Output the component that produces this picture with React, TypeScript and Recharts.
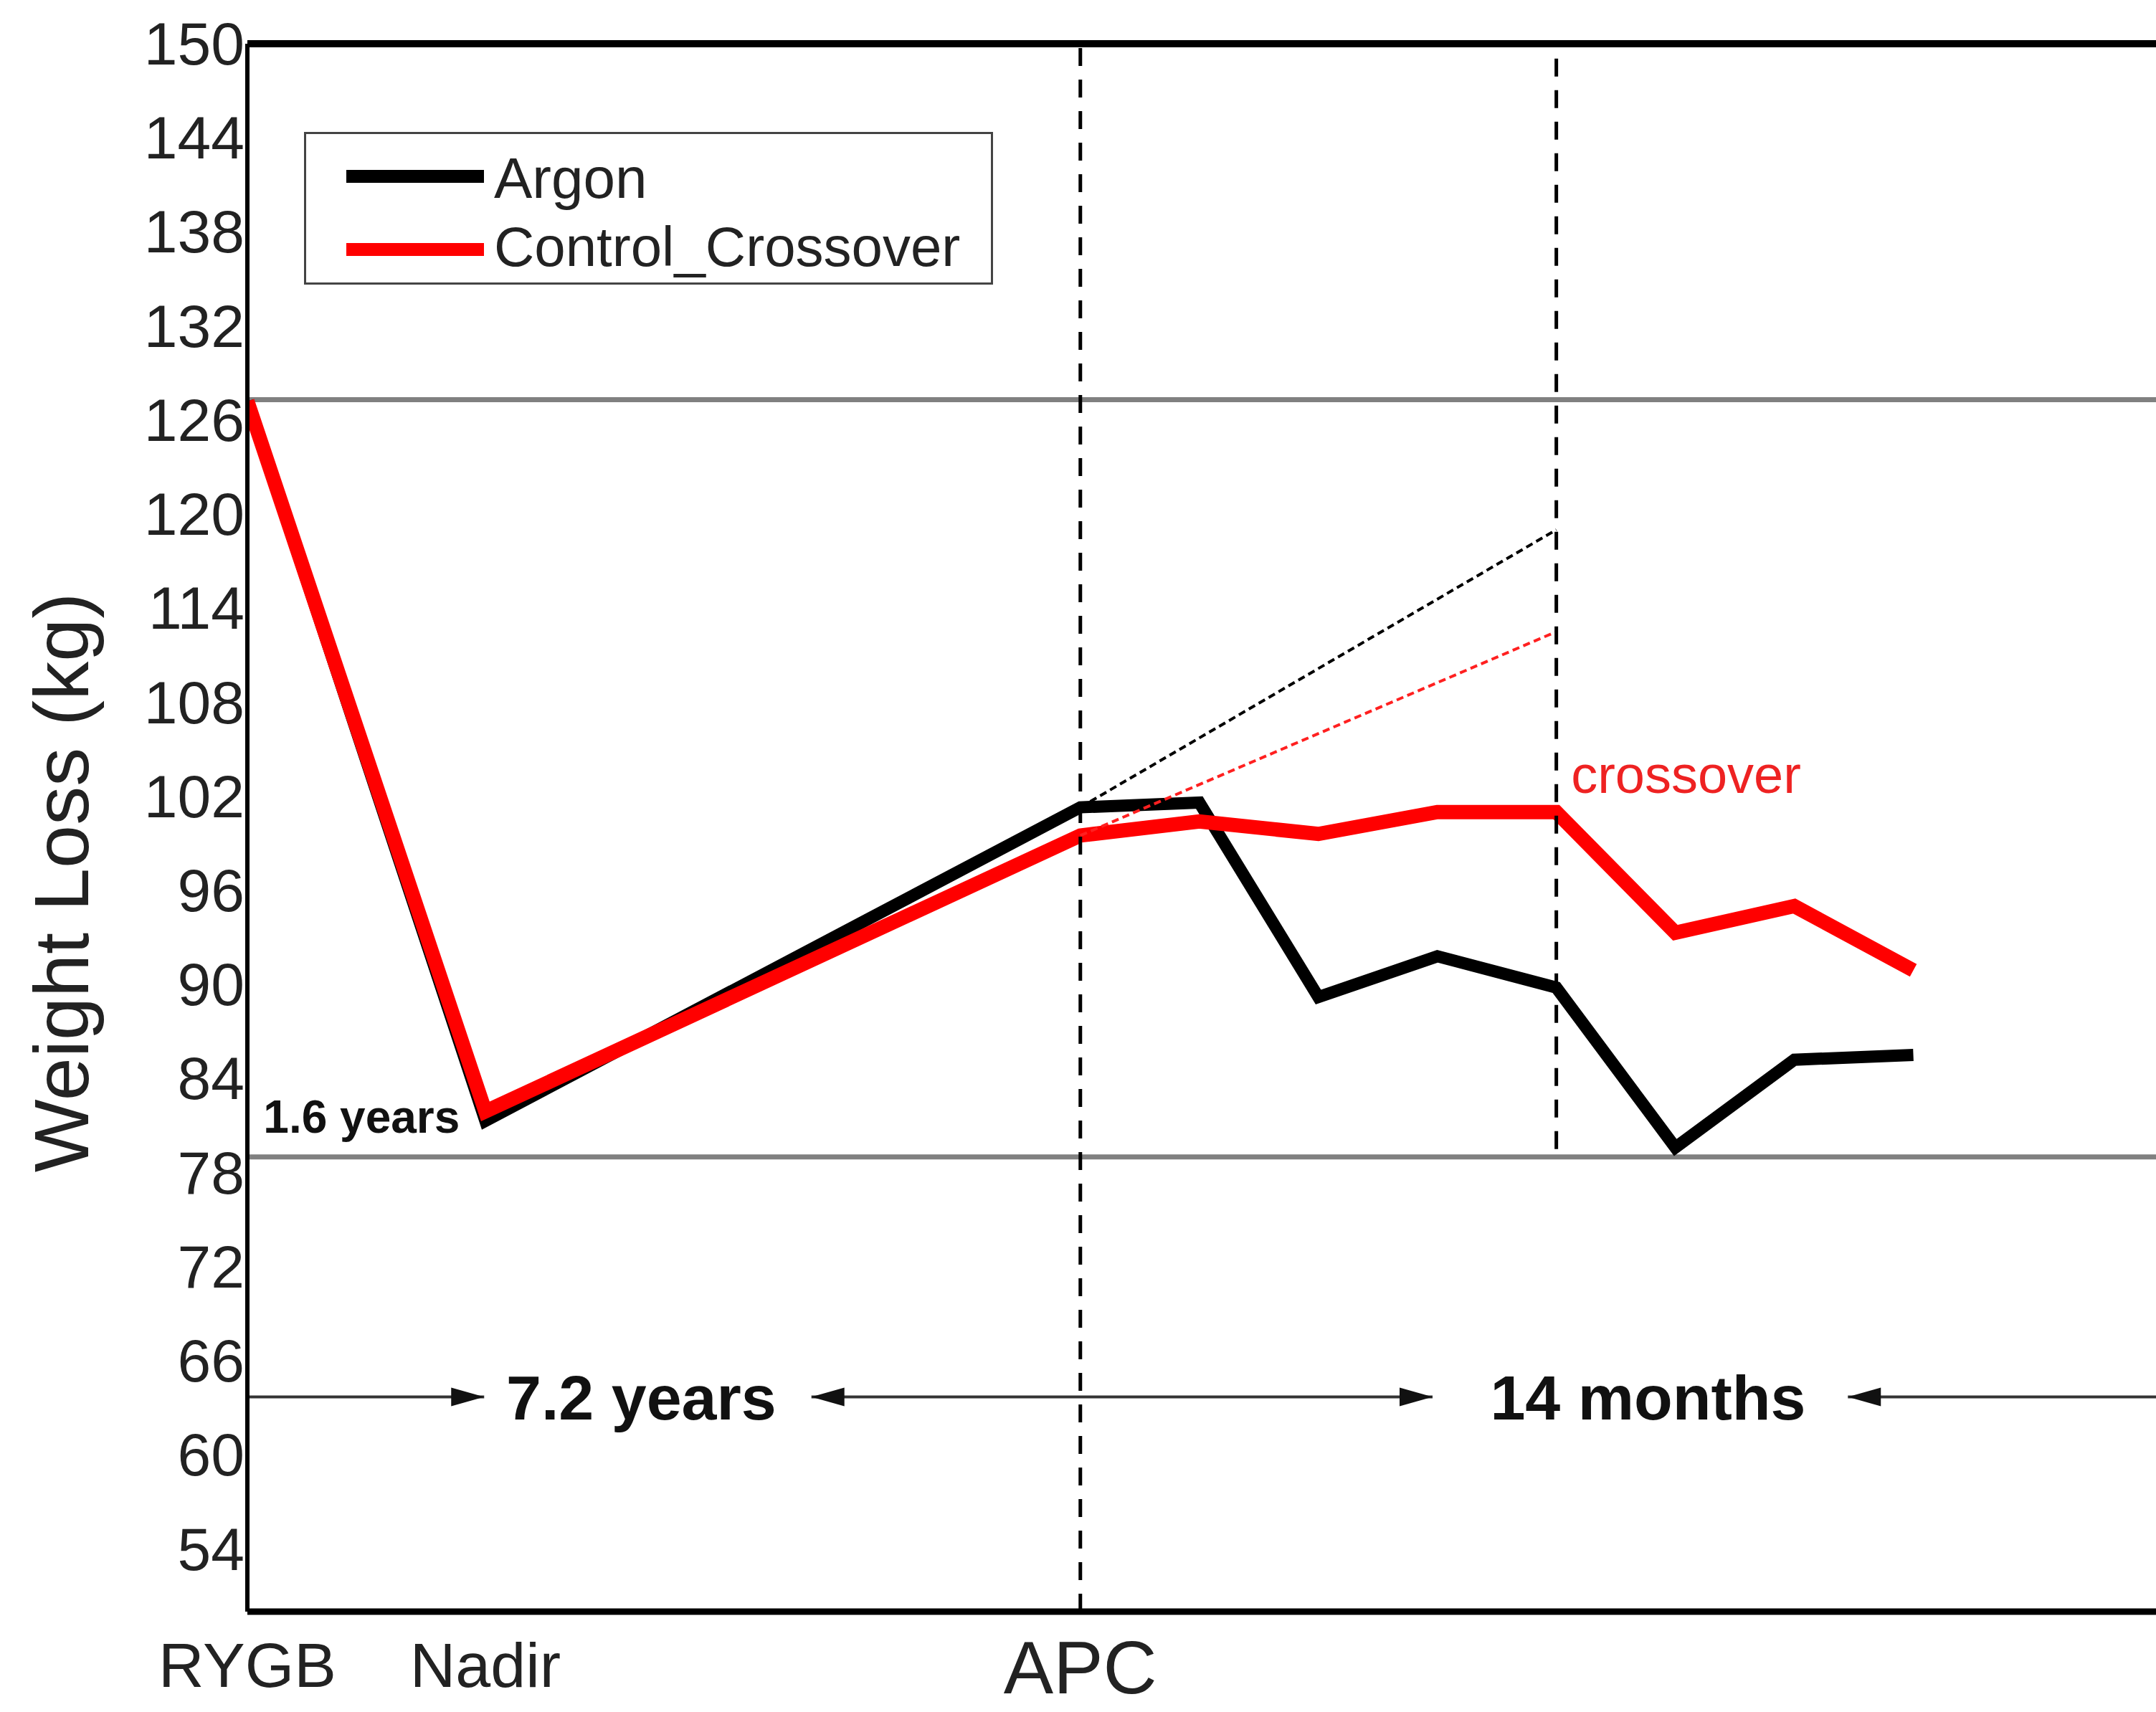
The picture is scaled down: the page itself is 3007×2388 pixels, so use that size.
import React from 'react';
import { LineChart, Line, XAxis, YAxis, ReferenceLine, ReferenceDot } from 'recharts';

// x position of each visit: 0 = RYGB, 2 = Nadir, 7 = APC, then monthly follow-up
const visitX = [0, 2, 7, 8, 9, 10, 11, 12, 13, 14];
const argonKg = [127.2, 81.3, 101.3, 101.6, 89.2, 91.8, 89.8, 79.6, 85.2, 85.5];
const controlKg = [127.2, 81.9, 99.5, 100.4, 99.6, 101.0, 101.0, 93.3, 95.0, 90.9];

// projected regain after APC (thin dashed)
const projX = [7, 11];
const projArgonKg = [101.3, 119.0];
const projControlKg = [99.5, 112.5];

const seriesNames = ['Argon', 'Control_Crossover'];
const seriesColors = ['#000000', '#ff0000'];

const xTicks = [0, 2, 7];
const xTickLabels = ['RYGB', 'Nadir', 'APC'];
const yTicks = [54, 60, 66, 72, 78, 84, 90, 96, 102, 108, 114, 120, 126, 132, 138, 144, 150];

const startKg = 127.3;
const lowKg = 79;
const apcX = 7;
const crossoverX = 11;
const arrowKg = 63.7;

const rows = visitX.map((x, i) => {
  const p = projX.indexOf(x);
  return {
    x,
    argon: argonKg[i],
    control: controlKg[i],
    projArgon: p >= 0 ? projArgonKg[p] : null,
    projControl: p >= 0 ? projControlKg[p] : null,
  };
});

const notes = [
  { text: '1.6 years', x: 0.96, y: 81.6, size: 64, weight: 'bold', color: '#111' },
  { text: 'crossover', x: 12.09, y: 103.4, size: 74, weight: 'normal', color: '#ee2222' },
  { text: '7.2 years', x: 3.31, y: arrowKg, size: 88, weight: 'bold', color: '#111' },
  { text: '14 months', x: 11.77, y: arrowKg, size: 88, weight: 'bold', color: '#111' },
];

const arrows = [
  { x1: 0, x2: 1.99, start: false, end: true },
  { x1: 4.74, x2: 9.96, start: true, end: true },
  { x1: 13.45, x2: 18.1, start: true, end: false },
];

const FONT = '"Liberation Sans", Arial, sans-serif';

const arrowShape = (a: { start: boolean; end: boolean }) => (props: any) => {
  const { x1, y1, x2, y2 } = props;
  const L = 46;
  const W = 13;
  return (
    <g>
      <line x1={x1} y1={y1} x2={x2} y2={y2} stroke="#333" strokeWidth={4} />
      {a.start && <polygon points={`${x1},${y1} ${x1 + L},${y1 - W} ${x1 + L},${y1 + W}`} fill="#111" />}
      {a.end && <polygon points={`${x2},${y2} ${x2 - L},${y2 - W} ${x2 - L},${y2 + W}`} fill="#111" />}
    </g>
  );
};

const renderXTick = (props: any) => {
  const { x, y, payload } = props;
  const label = xTickLabels[xTicks.indexOf(payload.value)];
  const big = label === 'APC';
  return (
    <text x={x} y={y + (big ? 114 : 105)} textAnchor="middle" fontSize={big ? 104 : 88} fill="#222" fontFamily={FONT}>
      {label}
    </text>
  );
};

const renderYTick = (props: any) => {
  const { x, y, payload } = props;
  return (
    <text x={x} y={y} textAnchor="end" dominantBaseline="central" fontSize={84} fill="#222" fontFamily={FONT}>
      {payload.value}
    </text>
  );
};

export default function App() {
  return (
    <div
      style={{
        position: 'absolute',
        left: 0,
        top: 0,
        width: 3007,
        height: 2388,
        overflow: 'hidden',
        background: '#fff',
        fontFamily: FONT,
      }}
    >
      <LineChart width={3349} height={2388} data={rows} margin={{ top: 61, right: 0, bottom: 0, left: 0 }}>
        <XAxis
          type="number"
          dataKey="x"
          domain={[0, 18.1]}
          ticks={xTicks}
          interval={0}
          height={140}
          tickSize={0}
          tickMargin={0}
          tickLine={false}
          axisLine={{ stroke: '#000', strokeWidth: 9 }}
          tick={renderXTick}
          allowDataOverflow
        />
        <YAxis
          type="number"
          domain={[50, 150]}
          ticks={yTicks}
          interval={0}
          width={345}
          tickSize={0}
          tickMargin={4}
          tickLine={false}
          axisLine={{ stroke: '#000', strokeWidth: 6 }}
          tick={renderYTick}
          allowDataOverflow
        />
        <ReferenceLine y={startKg} stroke="#808080" strokeWidth={7} />
        <ReferenceLine y={lowKg} stroke="#808080" strokeWidth={7} />
        <ReferenceLine y={150} stroke="#000" strokeWidth={10} />
        {arrows.map((a, i) => (
          <ReferenceLine
            key={`arrow-${i}`}
            segment={[{ x: a.x1, y: arrowKg }, { x: a.x2, y: arrowKg }]}
            shape={arrowShape(a)}
          />
        ))}
        <Line
          dataKey="projArgon"
          stroke="#000"
          strokeWidth={4}
          strokeDasharray="10 6"
          dot={false}
          connectNulls
          legendType="none"
          isAnimationActive={false}
        />
        <Line
          dataKey="argon"
          name={seriesNames[0]}
          stroke={seriesColors[0]}
          strokeWidth={17}
          dot={false}
          isAnimationActive={false}
        />
        <Line
          dataKey="control"
          name={seriesNames[1]}
          stroke={seriesColors[1]}
          strokeWidth={20}
          dot={false}
          isAnimationActive={false}
        />
        <Line
          dataKey="projControl"
          stroke="#ff2020"
          strokeWidth={4}
          strokeDasharray="10 6"
          dot={false}
          connectNulls
          legendType="none"
          isAnimationActive={false}
        />
        <ReferenceLine x={apcX} stroke="#000" strokeWidth={5} strokeDasharray="25 19" />
        <ReferenceLine
          segment={[{ x: crossoverX, y: lowKg + 0.5 }, { x: crossoverX, y: 150 }]}
          stroke="#000"
          strokeWidth={5}
          strokeDasharray="25 19"
        />
        {notes.map((n, i) => (
          <ReferenceDot
            key={`note-${i}`}
            x={n.x}
            y={n.y}
            r={0}
            fill="none"
            stroke="none"
            label={{
              value: n.text,
              position: 'center',
              fill: n.color,
              fontSize: n.size,
              fontWeight: n.weight,
              fontFamily: FONT,
            }}
          />
        ))}
      </LineChart>

      {/* y-axis title */}
      <div
        style={{
          position: 'absolute',
          left: 86,
          top: 1231,
          transform: 'translate(-50%, -50%) rotate(-90deg)',
          fontSize: 108,
          lineHeight: 1,
          whiteSpace: 'nowrap',
          color: '#222',
        }}
      >
        Weight Loss (kg)
      </div>

      {/* legend */}
      <div
        style={{
          position: 'absolute',
          left: 424,
          top: 184,
          width: 961,
          height: 213,
          boxSizing: 'border-box',
          border: '3px solid #444',
          background: '#fff',
        }}
      >
        {seriesNames.map((name, i) => (
          <React.Fragment key={name}>
            <div
              style={{
                position: 'absolute',
                left: 56,
                top: 50 + i * 102,
                width: 192,
                height: 18,
                background: seriesColors[i],
              }}
            />
            <div
              style={{
                position: 'absolute',
                left: 262,
                top: 22 + i * 95,
                fontSize: i === 0 ? 80 : 78,
                lineHeight: '80px',
                whiteSpace: 'nowrap',
                color: '#222',
              }}
            >
              {name}
            </div>
          </React.Fragment>
        ))}
      </div>
    </div>
  );
}
